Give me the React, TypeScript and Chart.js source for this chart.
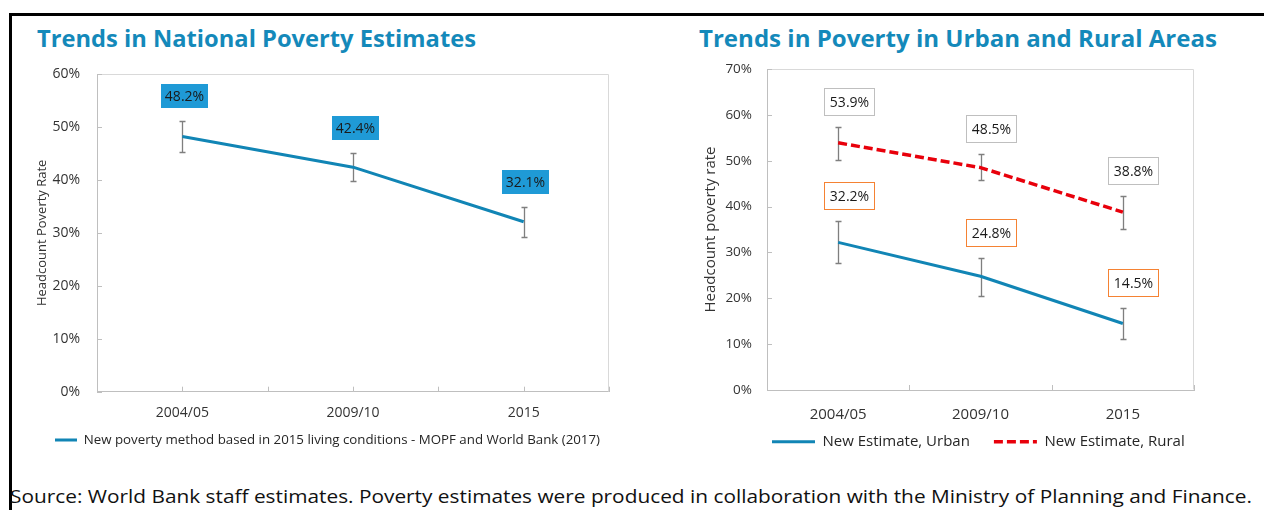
import React, { useEffect, useLayoutEffect, useRef } from 'react';
import { Chart, registerables } from 'chart.js';

Chart.register(...registerables);

const FONT = "'Open Sans', 'Noto Sans', sans-serif";

// ---------- data ----------
const categories = ['2004/05', '2009/10', '2015'];

const nationalRate = [48.2, 42.4, 32.1];
const nationalLow = [45.2, 39.8, 29.3];
const nationalHigh = [51.2, 45.0, 34.9];

const urbanRate = [32.2, 24.8, 14.5];
const urbanLow = [27.6, 20.5, 11.2];
const urbanHigh = [36.8, 28.7, 17.8];

const ruralRate = [53.9, 48.5, 38.8];
const ruralLow = [50.2, 45.8, 35.2];
const ruralHigh = [57.3, 51.5, 42.3];

const nationalYTicks = [0, 10, 20, 30, 40, 50, 60];
const areaYTicks = [0, 10, 20, 30, 40, 50, 60, 70];

const TITLE_NATIONAL = 'Trends in National Poverty Estimates';
const TITLE_AREAS = 'Trends in Poverty in Urban and Rural Areas';
const Y_TITLE_NATIONAL = 'Headcount Poverty Rate';
const Y_TITLE_AREAS = 'Headcount poverty rate';
const LEGEND_NATIONAL = 'New poverty method based in 2015 living conditions - MOPF and World Bank (2017)';
const LEGEND_URBAN = 'New Estimate, Urban';
const LEGEND_RURAL = 'New Estimate, Rural';
const SOURCE = 'Source: World Bank staff estimates. Poverty estimates were produced in collaboration with the Ministry of Planning and Finance.';

// ---------- colours ----------
const TITLE_COLOR = '#1489ba';
const BLUE_LINE = '#1185b5';
const RED_LINE = '#e8000b';
const LABEL_FILL = '#1f9ad6';
const ORANGE = '#f58233';
const GREY_BOX = '#bfbfbf';
const AXIS = '#bfbfbf';
const FRAME = '#d9d9d9';
const ERR = '#7f7f7f';
const TEXT = '#333333';

const catLabel = (v: number) => {
  const i = v - 0.5;
  return Number.isInteger(i) && i >= 0 && i < categories.length ? categories[i] : '';
};

const toPoints = (vals: number[]) => categories.map((_, i) => ({ x: i + 0.5, y: vals[i] }));

function makePlugins(cfg: any) {
  const legendPlace = {
    id: 'legendPlace',
    afterLayout(chart: any) {
      const lg = chart.legend;
      if (!lg || !lg.lineWidths) return;
      const p = lg.options.labels.padding;
      const natural = (lg.left + p + lg.right - lg.lineWidths[0]) / 2;
      const dx = cfg.legendStartX - natural;
      lg.left += dx;
      lg.right += dx;
      const dy = cfg.legendTextY - cfg.legendFont / 2 - p - lg.top;
      lg.top += dy;
      lg.bottom += dy;
    },
  };

  const frame = {
    id: 'plotFrame',
    beforeDatasetsDraw(chart: any) {
      const { ctx, chartArea: a } = chart;
      const l = Math.round(a.left) + 0.5;
      const r = Math.round(a.right) - 0.5;
      const t = Math.round(a.top) + 0.5;
      const b = Math.round(a.bottom) - 0.5;
      ctx.save();
      ctx.lineWidth = 1;
      ctx.strokeStyle = FRAME;
      ctx.beginPath();
      ctx.moveTo(l, t);
      ctx.lineTo(r, t);
      ctx.lineTo(r, b);
      ctx.stroke();
      ctx.strokeStyle = AXIS;
      const ys = chart.scales.y;
      ys.ticks.forEach((tk: any) => {
        const y = Math.round(ys.getPixelForValue(tk.value)) + 0.5;
        ctx.beginPath();
        ctx.moveTo(a.left, y);
        ctx.lineTo(a.left + 5, y);
        ctx.stroke();
      });
      const xs = chart.scales.x;
      xs.ticks.forEach((tk: any) => {
        if (!cfg.xTickFilter(tk.value)) return;
        const x = Math.round(xs.getPixelForValue(tk.value)) + 0.5;
        ctx.beginPath();
        ctx.moveTo(x, a.bottom);
        ctx.lineTo(x, a.bottom - 5);
        ctx.stroke();
      });
      ctx.restore();
    },
  };

  const errorBars = {
    id: 'errorBars',
    beforeDatasetsDraw(chart: any) {
      const { ctx } = chart;
      const ys = chart.scales.y;
      ctx.save();
      ctx.strokeStyle = ERR;
      ctx.lineWidth = 1.3;
      chart.data.datasets.forEach((ds: any, di: number) => {
        const meta = chart.getDatasetMeta(di);
        meta.data.forEach((pt: any, i: number) => {
          const x = Math.round(pt.x) + 0.5;
          const yh = Math.round(ys.getPixelForValue(ds.errHigh[i])) + 0.5;
          const yl = Math.round(ys.getPixelForValue(ds.errLow[i])) + 0.5;
          ctx.beginPath();
          ctx.moveTo(x, yh);
          ctx.lineTo(x, yl);
          ctx.moveTo(x - 3, yh);
          ctx.lineTo(x + 3, yh);
          ctx.moveTo(x - 3, yl);
          ctx.lineTo(x + 3, yl);
          ctx.stroke();
        });
      });
      ctx.restore();
    },
  };

  const valueLabels = {
    id: 'valueLabels',
    afterDatasetsDraw(chart: any) {
      const { ctx } = chart;
      const ys = chart.scales.y;
      ctx.save();
      ctx.font = `14px ${FONT}`;
      ctx.textAlign = 'center';
      ctx.textBaseline = 'middle';
      chart.data.datasets.forEach((ds: any, di: number) => {
        const meta = chart.getDatasetMeta(di);
        meta.data.forEach((pt: any, i: number) => {
          const text = `${ds.data[i].y.toFixed(1)}%`;
          const tw = ctx.measureText(text).width;
          const w = Math.round(tw + 2 * cfg.labelPadX);
          const h = cfg.labelH;
          const cx = pt.x + cfg.labelDx;
          const cy = ys.getPixelForValue(ds.errHigh[i]) - 25;
          const x0 = Math.round(cx - w / 2);
          const y0 = Math.round(cy - h / 2);
          if (ds.labelFill) {
            ctx.fillStyle = ds.labelFill;
            ctx.fillRect(x0, y0, w, h);
          }
          if (ds.labelBorder) {
            ctx.strokeStyle = ds.labelBorder;
            ctx.lineWidth = 1;
            ctx.strokeRect(x0 + 0.5, y0 + 0.5, w - 1, h - 1);
          }
          ctx.fillStyle = '#1a1a1a';
          ctx.fillText(text, x0 + w / 2, y0 + h / 2 + 1);
        });
      });
      ctx.restore();
    },
  };
  return [legendPlace, frame, errorBars, valueLabels];
}

function buildChart(canvas: HTMLCanvasElement, spec: any) {
  const yTicks = spec.yTicks;
  return new Chart(canvas, {
    type: 'line',
    data: { datasets: spec.datasets },
    options: {
      responsive: false,
      animation: false,
      events: [],
      layout: { padding: spec.padding },
      scales: {
        x: {
          type: 'linear',
          min: 0,
          max: categories.length,
          grid: { display: false, drawTicks: false },
          border: { display: true, color: AXIS, width: 1 },
          ticks: {
            stepSize: 0.5,
            autoSkip: false,
            maxRotation: 0,
            padding: spec.xPad,
            color: TEXT,
            font: { family: FONT, size: spec.xFont },
            callback: (v: any) => catLabel(Number(v)),
          },
          afterFit: (s: any) => {
            s.height = spec.xHeight;
          },
        },
        y: {
          type: 'linear',
          min: yTicks[0],
          max: yTicks[yTicks.length - 1],
          grid: {
            display: true,
            drawOnChartArea: false,
            drawTicks: true,
            tickLength: spec.yGap,
            color: 'rgba(0,0,0,0)',
            tickColor: 'rgba(0,0,0,0)',
          },
          border: { display: true, color: AXIS, width: 1 },
          ticks: {
            stepSize: yTicks[1] - yTicks[0],
            padding: 0,
            color: TEXT,
            font: { family: FONT, size: spec.yFont },
            callback: (v: any) => `${v}%`,
          },
          title: {
            display: true,
            text: spec.yTitle,
            color: TEXT,
            font: { family: FONT, size: spec.yTitleFont },
            padding: { top: spec.yTitlePad, bottom: 0 },
          },
          afterFit: (s: any) => {
            s.width = spec.yWidth;
          },
        },
      },
      plugins: {
        tooltip: { enabled: false },
        title: { display: false },
        legend: {
          position: 'bottom',
          labels: {
            usePointStyle: true,
            pointStyle: 'line',
            pointStyleWidth: spec.legendLine,
            padding: spec.legendPad,
            color: '#262626',
            font: { family: FONT, size: spec.legendFont },
            generateLabels: (chart: any) =>
              Chart.defaults.plugins.legend.labels.generateLabels(chart).map((item: any) => {
                const ds = chart.data.datasets[item.datasetIndex];
                return {
                  ...item,
                  lineWidth: ds.borderWidth,
                  lineDash: ds.borderDash || [],
                  strokeStyle: ds.borderColor,
                  lineCap: 'butt',
                };
              }),
          },
        },
      },
    } as any,
    plugins: makePlugins(spec) as any,
  });
}

function ChartBox({ left, top, width, height, spec }: any) {
  const ref = useRef<HTMLCanvasElement>(null);
  useEffect(() => {
    if (!ref.current) return;
    const chart = buildChart(ref.current, spec);
    return () => chart.destroy();
  }, []);
  return (
    <canvas
      ref={ref}
      width={width}
      height={height}
      style={{ position: 'absolute', left, top, width, height }}
    />
  );
}

function FitText({ text, left, top, width, size, weight, color }: any) {
  const ref = useRef<HTMLDivElement>(null);
  useLayoutEffect(() => {
    const el = ref.current;
    if (!el) return;
    el.style.transform = 'none';
    const w = el.getBoundingClientRect().width;
    if (w > 0) el.style.transform = `scaleX(${width / w})`;
  }, []);
  return (
    <div
      ref={ref}
      style={{
        position: 'absolute',
        left,
        top,
        whiteSpace: 'nowrap',
        fontFamily: FONT,
        fontSize: size,
        fontWeight: weight,
        lineHeight: 1,
        color,
        transformOrigin: 'left top',
      }}
    >
      {text}
    </div>
  );
}

const nationalSpec = {
  datasets: [
    {
      label: LEGEND_NATIONAL,
      data: toPoints(nationalRate),
      errLow: nationalLow,
      errHigh: nationalHigh,
      labelFill: LABEL_FILL,
      borderColor: BLUE_LINE,
      backgroundColor: BLUE_LINE,
      borderWidth: 3,
      borderJoinStyle: 'round',
      pointRadius: 0,
      pointHoverRadius: 0,
      tension: 0,
    },
  ],
  yTicks: nationalYTicks,
  yFont: 14,
  yTitle: Y_TITLE_NATIONAL,
  yTitleFont: 13,
  yTitlePad: -11,
  yWidth: 52,
  yGap: 17,
  xFont: 14,
  xPad: 13,
  xHeight: 32,
  padding: { left: 45, right: 31, top: 14, bottom: 4 },
  legendLine: 22,
  legendPad: 10,
  legendFont: 13.3,
  legendStartX: 55,
  legendTextY: 380,
  labelPadX: 4,
  labelH: 24,
  labelDx: 2,
  xTickFilter: (_v: number) => true,
};

const areaSpec = {
  datasets: [
    {
      label: LEGEND_URBAN,
      data: toPoints(urbanRate),
      errLow: urbanLow,
      errHigh: urbanHigh,
      labelFill: '#ffffff',
      labelBorder: ORANGE,
      borderColor: BLUE_LINE,
      backgroundColor: BLUE_LINE,
      borderWidth: 3,
      borderJoinStyle: 'round',
      pointRadius: 0,
      pointHoverRadius: 0,
      tension: 0,
    },
    {
      label: LEGEND_RURAL,
      data: toPoints(ruralRate),
      errLow: ruralLow,
      errHigh: ruralHigh,
      labelFill: '#ffffff',
      labelBorder: GREY_BOX,
      borderColor: RED_LINE,
      backgroundColor: RED_LINE,
      borderWidth: 3.5,
      borderDash: [9, 4],
      pointRadius: 0,
      pointHoverRadius: 0,
      tension: 0,
    },
  ],
  yTicks: areaYTicks,
  yFont: 13.5,
  yTitle: Y_TITLE_AREAS,
  yTitleFont: 15,
  yTitlePad: -13,
  yWidth: 52,
  yGap: 15,
  xFont: 15,
  xPad: 16,
  xHeight: 40,
  padding: { left: 75, right: 70, top: 19, bottom: 0 },
  legendLine: 43,
  legendPad: 24,
  legendFont: 15,
  legendStartX: 132,
  legendTextY: 391.7,
  labelPadX: 6,
  labelH: 28,
  labelDx: 11,
  xTickFilter: (v: number) => Number.isInteger(v),
};

export default function App() {
  return (
    <div
      style={{
        position: 'fixed',
        left: 0,
        top: 0,
        width: 1264,
        height: 510,
        background: '#ffffff',
        overflow: 'hidden',
      }}
    >
      <div
        style={{
          position: 'absolute',
          left: 9,
          top: 13,
          width: 1400,
          height: 600,
          borderTop: '3px solid #000',
          borderLeft: '3px solid #000',
        }}
      />
      <FitText text={TITLE_NATIONAL} left={37} top={27} width={439} size={23} weight={700} color={TITLE_COLOR} />
      <FitText text={TITLE_AREAS} left={699} top={27} width={518} size={23} weight={700} color={TITLE_COLOR} />
      <ChartBox left={0} top={60} width={640} height={401} spec={nationalSpec} />
      <ChartBox left={640} top={50} width={624} height={429} spec={areaSpec} />
      <FitText text={SOURCE} left={10} top={487} width={1242} size={18} weight={400} color="#111111" />
    </div>
  );
}
